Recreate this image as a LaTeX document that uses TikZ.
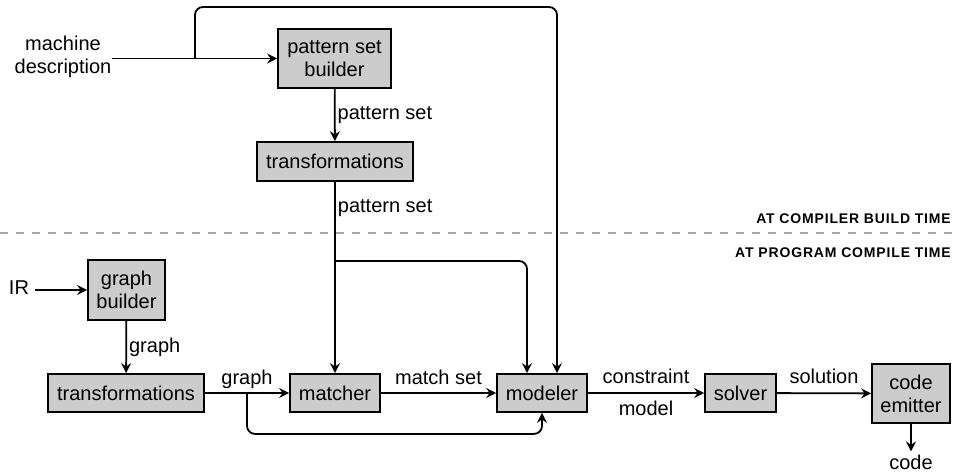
\documentclass[tikz,border=0pt]{standalone}
\usepackage{fontspec}
\setmainfont{Liberation Sans}
\newfontfamily\capsfont[LetterSpace=6]{Liberation Sans}
\usetikzlibrary{arrows.meta,calc}
\begin{document}
\begin{tikzpicture}[x=1pt,y=-1pt,
  font=\fontsize{20}{23}\selectfont,
  box/.style={draw=black,line width=1.8pt,fill=black!20,inner sep=0pt,align=center},
  wire/.style={line width=1.8pt,draw=black},
  arr/.style={wire,-{Stealth[length=10pt,width=10pt,inset=3.5pt]}},
  lbl/.style={inner sep=2pt},
  tag/.style={font=\capsfont\bfseries\fontsize{14}{16}\selectfont,inner sep=0pt,anchor=base east}]
\useasboundingbox[fill=white] (0,0) rectangle (958,473);
% dashed separator
\draw[gray!70,line width=1.6pt,dash pattern=on 8pt off 8pt] (0,233) -- (958,233);
\node[tag] (t1) at (951,223) {AT COMPILER BUILD TIME};
\node[tag] (t2) at (951,257) {AT PROGRAM COMPILE TIME};
% nodes
\node[lbl,align=center,inner sep=0pt] (md) at (63,57) {machine\\description};
\node[box,minimum width=113pt,minimum height=59pt] (psb) at (334.5,58.5) {pattern set\\builder};
\node[box,minimum width=156pt,minimum height=39pt] (ttop) at (335,161.5) {transformations};
\node[lbl,inner sep=0pt] (ir) at (19,288) {IR};
\node[box,minimum width=77pt,minimum height=60pt] (gb) at (126.5,290) {graph\\builder};
\node[box,minimum width=156pt,minimum height=38pt] (tbot) at (126,393) {transformations};
\node[box,minimum width=90pt,minimum height=38pt] (matcher) at (335,393) {matcher};
\node[box,minimum width=90pt,minimum height=38pt] (modeler) at (542,393) {modeler};
\node[box,minimum width=71pt,minimum height=38pt] (solver) at (740.5,393) {solver};
\node[box,minimum width=78pt,minimum height=59pt] (ce) at (911,393.5) {code\\emitter};
\node[lbl,inner sep=0pt] (code) at (911,462) {code};
% coordinates
\coordinate (b1) at (195,58);
\coordinate (topc) at (557,7);
\coordinate (j) at (335,261);
\coordinate (j2) at (247,393);
% connectors
\draw[arr] (md.east |- psb.west) -- (psb.west);
\draw[arr,rounded corners=8pt] (b1) |- (topc) -- ([xshift=15pt]modeler.north);
\draw[arr] (psb) -- (ttop) node[midway,right,lbl] {pattern set};
\draw[arr] (ttop) -- (matcher) node[pos=0.135,right,lbl] {pattern set};
\draw[arr,rounded corners=8pt] (j) -| ([xshift=-15pt]modeler.north);
\draw[arr] ([xshift=6pt]ir.east |- gb.west) -- (gb.west);
\draw[arr] (gb) -- (tbot) node[midway,right,lbl] {graph};
\draw[arr] (tbot) -- (matcher) node[midway,anchor=base,yshift=9pt] {graph};
\draw[arr,rounded corners=8pt] (j2) |- ($(modeler.south)+(0,21)$) -- (modeler.south);
\draw[arr] (matcher) -- (modeler) node[midway,anchor=base,yshift=9pt] {match set};
\draw[arr] (modeler) -- (solver) node[midway,anchor=base,yshift=10pt] {constraint}
  node[midway,anchor=base,yshift=-22pt] {model};
\draw[arr] (solver) -- (ce) node[midway,anchor=base,yshift=10pt] {solution};
\draw[arr] (ce) -- ([yshift=3pt]code.north);
\end{tikzpicture}
\end{document}
